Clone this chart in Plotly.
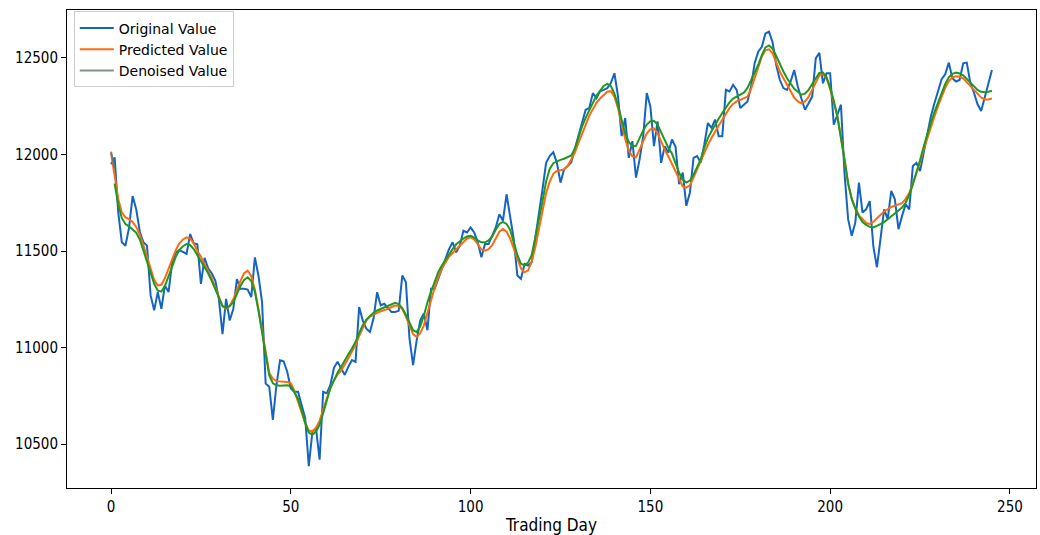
import plotly.graph_objects as go

# Daily closing values of the index over the trading window
days = list(range(246))

original = [
    11950, 11985, 11700, 11545, 11527, 11620, 11785, 11717, 11600, 11545,
    11528, 11270, 11193, 11287, 11201, 11322, 11287, 11442, 11493, 11505,
    11495, 11485, 11588, 11540, 11535, 11330, 11465, 11410, 11385, 11347,
    11250, 11070, 11252, 11140, 11200, 11355, 11304, 11304, 11300, 11261,
    11467, 11372, 11235, 10814, 10797, 10625, 10806, 10934, 10929, 10875,
    10788, 10771, 10771, 10702, 10634, 10385, 10565, 10582, 10419, 10771,
    10763, 10806, 10895, 10926, 10895, 10858, 10901, 10935, 10926, 11210,
    11141, 11098, 11081, 11150, 11287, 11219, 11227, 11205, 11184, 11184,
    11190, 11373, 11339, 11047, 10909, 11038, 11141, 11176, 11090, 11304,
    11304, 11356, 11410, 11459, 11510, 11545, 11493, 11528, 11605, 11596,
    11622, 11596, 11545, 11468, 11536, 11536, 11579, 11622, 11691, 11657,
    11794, 11682, 11562, 11373, 11356, 11433, 11425, 11442, 11562, 11700,
    11820, 11957, 11992, 12012, 11957, 11854, 11923, 11940, 11960, 12030,
    12095, 12170, 12232, 12240, 12318, 12292, 12327, 12335, 12344, 12370,
    12421, 12301, 12095, 12189, 11983, 12069, 11880, 11975, 12095, 12318,
    12249, 12043, 12172, 11957, 12043, 12009, 12078, 12040, 11846, 11906,
    11734, 11803, 11983, 11992, 11957, 12052, 12163, 12138, 12181, 12095,
    12095, 12335, 12327, 12361, 12335, 12241, 12258, 12275, 12352, 12473,
    12533, 12558, 12627, 12636, 12580, 12464, 12387, 12344, 12335, 12378,
    12438, 12352, 12290, 12232, 12266, 12300, 12498, 12527, 12369, 12421,
    12421, 12154, 12206, 12258, 11900, 11665, 11579, 11648, 11854, 11699,
    11716, 11759, 11527, 11416, 11562, 11716, 11665, 11811, 11768, 11613,
    11682, 11742, 11716, 11940, 11957, 11914, 12008, 12111, 12197, 12266,
    12335, 12390, 12415, 12476, 12395, 12378, 12386, 12472, 12476, 12369,
    12320, 12260, 12225, 12300, 12378, 12438,
]

predicted = [
    12010, 11880, 11770, 11700, 11674, 11665, 11650, 11625, 11585, 11530,
    11470, 11410, 11350, 11322, 11325, 11360, 11410, 11460, 11505, 11540,
    11560, 11571, 11565, 11540, 11500, 11470, 11435, 11395, 11360, 11310,
    11260, 11215, 11200, 11215, 11250, 11300, 11345, 11385, 11398, 11370,
    11300, 11200, 11098, 10980, 10870, 10838, 10826, 10824, 10823, 10822,
    10815, 10775, 10720, 10665, 10610, 10570, 10565, 10585, 10620, 10680,
    10740, 10790, 10830, 10860, 10880, 10910, 10945, 10980, 11012, 11060,
    11105, 11140, 11160, 11172, 11180, 11188, 11193, 11200, 11210, 11218,
    11215, 11200, 11160, 11110, 11070, 11055, 11075, 11115, 11180, 11250,
    11310, 11365, 11408, 11440, 11470, 11490, 11510, 11530, 11550, 11565,
    11571, 11560, 11535, 11508, 11502, 11510, 11530, 11565, 11600, 11614,
    11600, 11565, 11510, 11455, 11410, 11390, 11400, 11445, 11520, 11614,
    11710, 11800, 11860, 11900, 11915, 11920, 11923, 11940, 11975, 12010,
    12060, 12110, 12160, 12200, 12235, 12268, 12290, 12310, 12325, 12328,
    12300, 12240, 12160, 12080, 12020, 11990, 11985, 12030, 12075, 12110,
    12130, 12135, 12110, 12065, 12025, 11990, 11950, 11910, 11870, 11835,
    11828, 11840, 11880, 11923, 11965, 12010, 12050, 12085, 12120, 12150,
    12180, 12210, 12240, 12262, 12275, 12283, 12290, 12300, 12340, 12400,
    12460, 12507, 12540, 12545, 12524, 12475, 12430, 12395, 12360, 12325,
    12295, 12275, 12265, 12275, 12298, 12335, 12375, 12410, 12417, 12395,
    12340, 12270, 12200, 12090, 11960, 11850, 11770, 11720, 11685, 11665,
    11645, 11640, 11650, 11670, 11690, 11705, 11716, 11728, 11735, 11740,
    11748, 11770, 11800, 11850, 11900, 11960, 12025, 12085, 12145, 12197,
    12250, 12300, 12345, 12380, 12400, 12405, 12403, 12395, 12375, 12350,
    12330, 12310, 12295, 12285, 12285, 12290,
]

# Denoised series: the first two days, then the smoothed trend from day 1 on
denoised_days = [0, 1]
denoised = [12015, 11925]

trend_days = list(range(1, 246))
trend = [
    11850, 11740, 11670, 11640, 11628, 11613, 11595, 11560, 11505,
    11445, 11390, 11330, 11295, 11290, 11320, 11370, 11425, 11470, 11505,
    11525, 11536, 11530, 11510, 11480, 11450, 11420, 11385, 11345, 11300,
    11255, 11215, 11205, 11215, 11235, 11275, 11320, 11350, 11364, 11345,
    11290, 11190, 11070, 10950, 10855, 10815, 10805, 10802, 10803, 10805,
    10800, 10770, 10735, 10675, 10610, 10560, 10548, 10565, 10600, 10660,
    10720, 10790, 10830, 10870, 10900, 10935, 10965, 10995, 11030, 11075,
    11115, 11145, 11165, 11180, 11192, 11200, 11210, 11220, 11228, 11232,
    11225, 11205, 11170, 11125, 11090, 11080, 11110, 11165, 11235, 11290,
    11345, 11390, 11425, 11455, 11485, 11510, 11535, 11552, 11565, 11575,
    11579, 11570, 11555, 11545, 11545, 11555, 11575, 11610, 11640, 11651,
    11640, 11610, 11550, 11480, 11435, 11425, 11440, 11480, 11570, 11660,
    11760, 11860, 11925, 11955, 11965, 11972, 11978, 11988, 11995, 12030,
    12090, 12145, 12190, 12230, 12270, 12305, 12330, 12355, 12366, 12355,
    12315, 12255, 12180, 12110, 12065, 12042, 12045, 12085, 12125, 12155,
    12172, 12175, 12155, 12115, 12075, 12035, 12005, 11950, 11905, 11870,
    11855, 11865, 11895, 11935, 11975, 12035, 12085, 12120, 12155, 12185,
    12215, 12245, 12270, 12290, 12300, 12310, 12320, 12345, 12385, 12420,
    12465, 12515, 12555, 12565, 12548, 12510, 12465, 12430, 12395, 12365,
    12340, 12325, 12310, 12315, 12335, 12365, 12395, 12422, 12425, 12400,
    12345, 12280, 12197, 12090, 11974, 11850, 11770, 11720, 11680, 11650,
    11635, 11625, 11622, 11630, 11639, 11650, 11665, 11680, 11695, 11710,
    11725, 11750, 11790, 11845, 11905, 11970, 12040, 12105, 12165, 12220,
    12270, 12320, 12365, 12400, 12418, 12424, 12420, 12410, 12390, 12370,
    12350, 12335, 12325, 12322, 12325, 12330,
]

x_ticks = [0, 50, 100, 150, 200, 250]
y_ticks = [10500, 11000, 11500, 12000, 12500]

BLUE = "#1565c0"
ORANGE = "#ff6a10"
GRAY = "#5b7b66"
GREEN = "#1f9a1f"

fig = go.Figure()
fig.add_trace(go.Scatter(x=days, y=original, mode="lines", name="Original Value",
                         line=dict(color=BLUE, width=2)))
fig.add_trace(go.Scatter(x=days, y=predicted, mode="lines", name="Predicted Value",
                         line=dict(color=ORANGE, width=2)))
fig.add_trace(go.Scatter(x=denoised_days, y=denoised, mode="lines", name="Denoised Value",
                         line=dict(color=GRAY, width=2), opacity=0.8))
fig.add_trace(go.Scatter(x=trend_days, y=trend, mode="lines", name="Trend",
                         showlegend=False, line=dict(color=GREEN, width=2)))

# 5% padding around the data, like a default autoscaled axis
all_y = original + predicted + trend
y_lo, y_hi = min(all_y), max(all_y)
pad_y = 0.05 * (y_hi - y_lo)
pad_x = 0.05 * (days[-1] - days[0])

tick_font = dict(family="DejaVu Sans Condensed, DejaVu Sans", size=15, color="black")
axis_common = dict(
    showline=True, mirror=True, linecolor="black", linewidth=1,
    ticks="outside", ticklen=5, tickwidth=1, tickcolor="black",
    showgrid=False, zeroline=False, tickfont=tick_font,
)

fig.update_layout(
    width=1040, height=535,
    margin=dict(l=67, r=3, t=10, b=44),
    paper_bgcolor="white", plot_bgcolor="white",
    xaxis=dict(range=[days[0] - pad_x, days[-1] + pad_x], tickvals=x_ticks,
               tickformat="d",
               title=dict(text="Trading Day", standoff=4,
                          font=dict(family="DejaVu Sans Condensed, DejaVu Sans",
                                    size=17, color="black")),
               **axis_common),
    yaxis=dict(range=[y_lo - pad_y, y_hi + pad_y], tickvals=y_ticks,
               tickformat="d", **axis_common),
    legend=dict(x=0.007, y=0.997, xanchor="left", yanchor="top",
                bgcolor="white", bordercolor="#cccccc", borderwidth=1,
                itemwidth=34,
                font=dict(family="DejaVu Sans", size=14, color="black")),
    showlegend=True,
)

fig.write_html("out.html")
